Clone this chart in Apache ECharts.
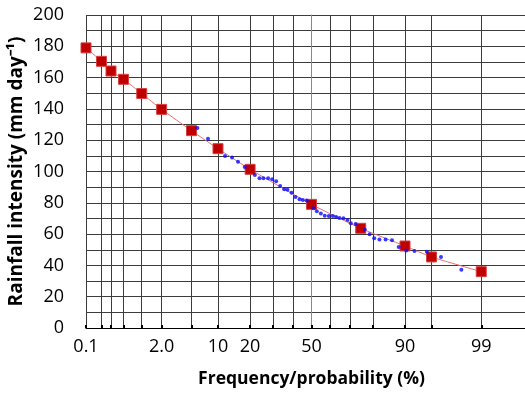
<!DOCTYPE html>
<html>
<head>
<meta charset="utf-8">
<script src="https://cdn.jsdelivr.net/npm/echarts@6/dist/echarts.min.js"></script>
<style>html,body{margin:0;padding:0;background:#fff;}#c{width:525px;height:393px;}</style>
</head>
<body>
<div id="c"></div>
<script>
// Fitted distribution (red squares): exceedance probability (%) and rainfall (mm/day)
const fitProb = [0.1, 0.2, 0.3, 0.5, 1, 2, 5, 10, 20, 50, 75, 90, 95, 99];
const fitValue = [179, 170.4, 164.2, 158.9, 149.8, 139.7, 126.1, 114.6, 101.4, 79.0, 63.7, 52.4, 45.4, 36.0];

// Observed data (blue dots)
const obsProb = [5.9, 7.8, 11.8, 13.8, 15.7, 18.0, 21.9, 23.8, 25.5, 27.6, 29.5, 31.4, 33.4, 35.4, 37.1, 39.2,
  41.3, 43.5, 45.3, 47.4, 51.1, 52.9, 55.1, 57.2, 59.4, 61.5, 63.2, 64.9, 66.9, 68.9, 70.5, 72.7,
  76.7, 78.7, 80.5, 82.4, 84.5, 86.5, 88.4, 90.3, 92.1, 94.3, 96.2, 98.0];
const obsValue = [127.8, 121.0, 109.9, 108.9, 106.3, 102.9, 97.8, 95.7, 95.7, 95.7, 95.0, 93.7, 90.7, 88.6, 88.4, 86.5,
  83.7, 82.2, 81.8, 81.4, 76.5, 74.6, 73.1, 71.8, 71.6, 71.6, 70.9, 70.3, 70.1, 69.0, 66.9, 66.5,
  62.9, 59.9, 57.3, 56.5, 56.5, 56.0, 51.8, 49.6, 49.2, 48.8, 45.4, 37.3];

// Probability-paper grid lines and labels
const gridProbs = [0.1, 0.2, 0.3, 0.5, 1, 2, 5, 10, 20, 30, 40, 50, 60, 70, 80, 90, 95, 99];
const labelProbs = [0.1, 2, 10, 20, 50, 90, 99];
const labelTexts = ['0.1', '2.0', '10', '20', '50', '90', '99'];
const yLabelValues = [0, 20, 40, 60, 80, 100, 120, 140, 160, 180, 200];

// inverse standard normal CDF (Acklam) — the probability scale transform
function normInv(p) {
  const a = [-3.969683028665376e+01, 2.209460984245205e+02, -2.759285104469687e+02, 1.383577518672690e+02, -3.066479806614716e+01, 2.506628277459239e+00];
  const b = [-5.447609879822406e+01, 1.615858368580409e+02, -1.556989798598866e+02, 6.680131188771972e+01, -1.328068155288572e+01];
  const c = [-7.784894002430293e-03, -3.223964580411365e-01, -2.400758277161838e+00, -2.549732539343734e+00, 4.374664141464968e+00, 2.938163982698783e+00];
  const d = [7.784695709041462e-03, 3.224671290700398e-01, 2.445134137142996e+00, 3.754408661907416e+00];
  const pl = 0.02425, ph = 1 - pl;
  let q, r;
  if (p < pl) {
    q = Math.sqrt(-2 * Math.log(p));
    return (((((c[0]*q+c[1])*q+c[2])*q+c[3])*q+c[4])*q+c[5]) / ((((d[0]*q+d[1])*q+d[2])*q+d[3])*q+1);
  } else if (p <= ph) {
    q = p - 0.5; r = q * q;
    return (((((a[0]*r+a[1])*r+a[2])*r+a[3])*r+a[4])*r+a[5])*q / (((((b[0]*r+b[1])*r+b[2])*r+b[3])*r+b[4])*r+1);
  } else {
    q = Math.sqrt(-2 * Math.log(1 - p));
    return -(((((c[0]*q+c[1])*q+c[2])*q+c[3])*q+c[4])*q+c[5]) / ((((d[0]*q+d[1])*q+d[2])*q+d[3])*q+1);
  }
}
const z = pct => normInv(pct / 100);

const gridZ = gridProbs.map(z);
const labelZ = labelProbs.map(z);

const chart = echarts.init(document.getElementById('c'));
const FONT = '"Open Sans", "Liberation Sans", sans-serif';
const lineCol = '#3c3c3c';

chart.setOption({
  animation: false,
  backgroundColor: '#fff',
  grid: { left: 86, right: -12, top: 15, bottom: 65, containLabel: false, outerBoundsMode: 'none' },
  xAxis: {
    type: 'value',
    min: z(0.1),
    max: z(99.9),
    name: 'Frequency/probability (%)',
    nameLocation: 'middle',
    nameGap: 42,
    nameMoveOverlap: false,
    nameTextStyle: { fontFamily: FONT, fontSize: 17.5, fontWeight: 'bold', color: '#000' },
    axisLine: { show: true, lineStyle: { color: '#000', width: 1 } },
    axisTick: { show: true, customValues: gridZ, length: 3, inside: true, lineStyle: { color: '#000', width: 2 } },
    axisLabel: {
      customValues: labelZ,
      margin: 10,
      fontFamily: FONT, fontSize: 18, color: '#000',
      formatter: v => {
        let best = 0, bd = Infinity;
        labelZ.forEach((lz, i) => { const dd = Math.abs(lz - v); if (dd < bd) { bd = dd; best = i; } });
        return labelTexts[best];
      }
    },
    splitLine: { show: true, lineStyle: { color: lineCol, width: 1 } }
  },
  yAxis: {
    type: 'value',
    min: 0, max: 200, interval: 10,
    name: 'Rainfall intensity (mm day\u207B\u00B9)',
    nameLocation: 'middle',
    nameGap: 60,
    nameMoveOverlap: false,
    nameRotate: 90,
    nameTextStyle: { fontFamily: FONT, fontSize: 19, fontWeight: 'bold', color: '#000' },
    axisLine: { show: true, lineStyle: { color: '#888', width: 1 } },
    axisTick: { show: false },
    axisLabel: { customValues: yLabelValues, margin: 22, fontFamily: FONT, fontSize: 18, color: '#000' },
    splitLine: { show: true, lineStyle: { color: lineCol, width: 1 } }
  },
  series: [
    {
      type: 'line',
      data: fitProb.map((p, i) => [z(p), fitValue[i]]),
      smooth: 0.2,
      symbol: 'rect',
      symbolSize: 10,
      lineStyle: { color: '#e8706c', width: 1 },
      itemStyle: { color: '#c00000', borderColor: '#d84040', borderWidth: 1 },
      z: 3
    },
    {
      type: 'scatter',
      data: obsProb.map((p, i) => [z(p), obsValue[i]]),
      symbol: 'circle',
      symbolSize: 4,
      itemStyle: { color: '#0a0aff' },
      z: 4
    }
  ]
});
</script>
</body>
</html>
